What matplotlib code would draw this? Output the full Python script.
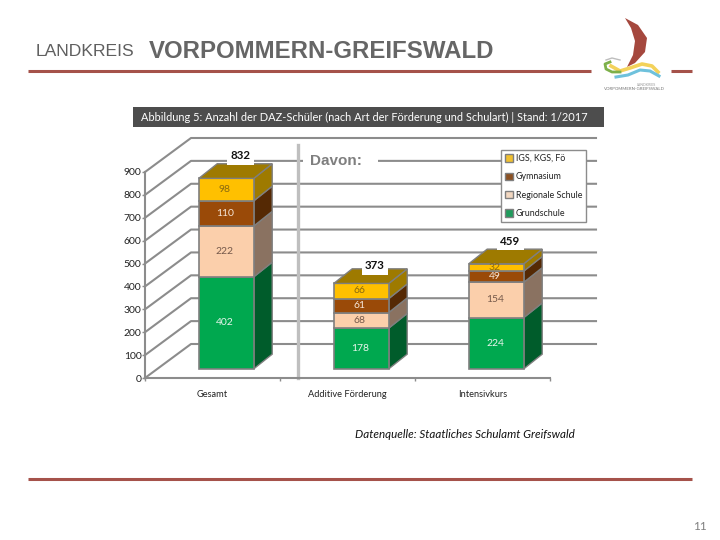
import matplotlib
matplotlib.use('Agg')
import matplotlib.pyplot as plt
from matplotlib.patches import Patch, Rectangle

# the data
categories = ['Gesamt', 'Additive Förderung', 'Intensivkurs']
grundschule = [402, 178, 224]
regionale_schule = [222, 68, 154]
gymnasium = [110, 61, 49]
igs_kgs_foe = [98, 66, 32]
totals = [832, 373, 459]
y_ticks = [0, 100, 200, 300, 400, 500, 600, 700, 800, 900]

series_names = ['Grundschule', 'Regionale Schule', 'Gymnasium', 'IGS, KGS, Fö']
series_values = [grundschule, regionale_schule, gymnasium, igs_kgs_foe]

# colours per series: front, side, label, legend
front_cols = ['#00A84F', '#FBCFAB', '#9A4A08', '#FFC000']
side_cols = ['#005C2B', '#8A7261', '#552904', '#9E7A00']
label_cols = ['#E8F5EC', '#75594A', '#F5E6D8', '#8A6A10']
legend_cols = ['#1F9B5C', '#F2D7C0', '#8B5022', '#F0C030']

GREY = '#8C8C8C'
RED = '#A5524A'
TEXT = '#222222'
plt.rcParams['font.family'] = ['Lato', 'DejaVu Sans']

W, H = 720, 540
fig = plt.figure(figsize=(W / 100, H / 100), dpi=100)

# page decoration, in pixel coordinates
bg = fig.add_axes([0, 0, 1, 1])
bg.set_xlim(0, W)
bg.set_ylim(H, 0)
bg.axis('off')

bg.plot([28, 591], [71, 71], color=RED, lw=2.2, solid_capstyle='butt')
bg.plot([671, 692], [71, 71], color=RED, lw=2.2, solid_capstyle='butt')
bg.plot([28, 692], [479, 479], color=RED, lw=2.2, solid_capstyle='butt')
bg.text(36, 52, 'LANDKREIS', family='Liberation Sans', fontsize=12.6, color='#5F5F5F', va='center')
bg.text(149, 51, 'VORPOMMERN-GREIFSWALD', family='Liberation Sans', fontsize=17.3, weight='bold',
        color='#666666', va='center')
bg.add_patch(Rectangle((133, 107), 471, 20, color='#4D4D4D', lw=0))
bg.text(141, 117, 'Abbildung 5: Anzahl der DAZ-Schüler (nach Art der Förderung und Schulart) | Stand: 1/2017',
        color='white', fontsize=7.95, va='center')
bg.text(355, 434, 'Datenquelle: Staatliches Schulamt Greifswald', style='italic', color='#111111',
        fontsize=8.4, va='center')
bg.text(707, 526, '11', color='#808080', fontsize=8.5, ha='right', va='center')

# logo
bg.fill([625, 638, 647, 645, 635, 627, 633, 635, 631], [18, 25, 38, 52, 63, 67, 55, 41, 28], color='#A5483E', lw=0)
bg.plot([611, 620, 630, 642, 652, 658], [66, 71, 68, 64, 66, 72], color='#F3D25A', lw=2.6)
bg.plot([616, 628, 640, 650, 659], [77, 75, 70, 71, 76], color='#6EC1DC', lw=2.2)
bg.plot([610, 605, 606, 612, 620], [62, 64, 69, 72, 72], color='#7DB04A', lw=2)
bg.plot([606, 612, 620], [60, 58, 60], color='#BDBDBD', lw=1)
bg.text(634, 89, 'VORPOMMERN-GREIFSWALD', fontsize=3.2, color='#777777', ha='center', va='center')
bg.text(646, 85, 'LANDKREIS', fontsize=2.5, color='#999999', ha='center', va='center')

# chart, the axes is the front edge of the 3d wall
ax = fig.add_axes([145 / W, 1 - 378 / H, 405 / W, 206 / H])
ax.patch.set_alpha(0)
ax.set_xlim(-0.5, 2.5)
ax.set_ylim(0, 900)

DX = 46 / 135  # wall depth
DY = 34 / 206 * 900
bar_w = 55 / 135
bar_dx = 0.4 * DX  # bar depth
bar_dy = 0.43 * DY
base = 0.27 * DY
shift = 0.3 * DX

# walls and grid
for v in y_ticks:
    ax.plot([-0.5, -0.5 + DX, 2.5 + DX], [v, v + DY, v + DY], color=GREY, lw=1.5, clip_on=False, zorder=1)

# bars
for i in range(len(categories)):
    left = i + shift - bar_w / 2
    right = left + bar_w
    bottom = base
    for j, vals in enumerate(series_values):
        top = bottom + vals[i]
        ax.fill([right, right + bar_dx, right + bar_dx, right],
                [bottom, bottom + bar_dy, top + bar_dy, top],
                facecolor=side_cols[j], edgecolor='#7F7F7F', lw=1, clip_on=False, zorder=3)
        ax.bar(i + shift, vals[i], bar_w, bottom=bottom, color=front_cols[j], edgecolor='#7F7F7F', lw=1.2,
               clip_on=False, zorder=4)
        ax.text(i + shift - 0.01, bottom + vals[i] / 2, str(vals[i]), color=label_cols[j], fontsize=7.5,
                ha='center', va='center', clip_on=False, zorder=6)
        bottom = top
    ax.fill([left, left + bar_dx, right + bar_dx, right], [top, top + bar_dy, top + bar_dy, top],
            facecolor=side_cols[3], edgecolor='#7F7F7F', lw=1, clip_on=False, zorder=5)

# totals with a white box over the grid
total_up = [8, 3, 8]
for i, t in enumerate(totals):
    ax.annotate(str(t), (i + shift + 0.75 * bar_dx, base + t + bar_dy), xytext=(0, total_up[i] * 0.72),
                textcoords='offset points', fontsize=8.3, weight='bold', color='#111111', ha='center', va='center',
                zorder=7, annotation_clip=False,
                bbox=dict(facecolor='white', edgecolor='none', pad=2.5))

# divider and Davon
ax.plot([0.633, 0.633], [0, 1018], color='#BFBFBF', lw=2.4, clip_on=False, zorder=2)
ax.add_patch(Rectangle((0.633 + 5 / 135, (378 - 172) / 206 * 900), 75 / 135, 22 / 206 * 900, facecolor='white',
                       edgecolor='none', clip_on=False, zorder=1.5))
ax.text(0.633 + 38 / 135, (378 - 161) / 206 * 900, 'Davon:', family='Liberation Sans', weight='bold', fontsize=11,
        color='#7F7F7F', va='center', ha='center', zorder=7, clip_on=False)

# axes
ax.spines[['top', 'right']].set_visible(False)
ax.spines[['left', 'bottom']].set_color(GREY)
ax.spines[['left', 'bottom']].set_linewidth(1.5)
ax.set_yticks(y_ticks)
ax.set_xticks(range(len(categories)))
ax.set_xticklabels(categories)
ax.set_xticks([-0.5, 0.5, 1.5, 2.5], minor=True)
ax.tick_params(axis='y', length=2, width=1, color=GREY, labelsize=7.5, labelcolor=TEXT, pad=0.5)
ax.tick_params(axis='x', which='major', length=0, labelsize=6.7, labelcolor=TEXT, pad=8.5)
ax.tick_params(axis='x', which='minor', length=2, width=1, color=GREY)

# legend
handles = [Patch(facecolor=legend_cols[j], edgecolor='#7F7F7F', label=series_names[j]) for j in range(3, -1, -1)]
leg = fig.legend(handles=handles, loc='upper left', bbox_to_anchor=(501 / W, 1 - 150 / H), borderaxespad=0,
                 fontsize=6.4, frameon=True, fancybox=False, edgecolor=GREY, framealpha=1, handlelength=0.9,
                 handleheight=0.9, handletextpad=0.3, labelspacing=1.05, borderpad=0.45, labelcolor=TEXT)
leg.set_zorder(10)

fig.savefig('out.png', dpi=100)
